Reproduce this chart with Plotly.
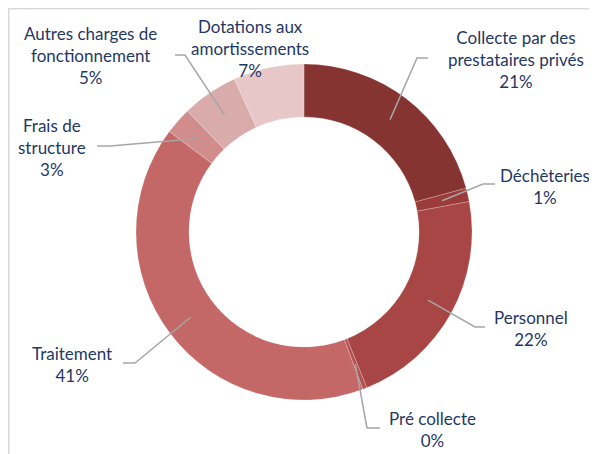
import math
import plotly.graph_objects as go

labels = ["Collecte par des<br>prestataires privés", "Déchèteries", "Personnel", "Pré collecte",
          "Traitement", "Frais de<br>structure", "Autres charges de<br>fonctionnement",
          "Dotations aux<br>amortissements"]
values = [20.8, 1.3, 21.8, 0.4, 40.9, 2.6, 5.4, 6.8]
colors = ["#853432", "#9B3C3B", "#A84645", "#B65050", "#C46867", "#D18D8C", "#D9ABAB", "#E7C7C7"]

# label layout (screen-pixel positions of label centres, leader elbow and end)
label_pos = [(516, 59), (545, 186), (531, 328), (432, 429), (72, 364), (52, 147), (90, 56), (250, 48)]
elbows = [(417, 58), (483, 184), (475, 327), (367, 428), (135, 363), (110, 146), (185, 55), None]
ends = [(428, 58), (495, 184), (485, 327), (380, 428), (123, 363), (97, 146), (175, 55), None]

OFF = 8  # page body margin
W, H = 597 - OFF, 454 - OFF
CX, CY, R = 304, 232, 168
HOLE = 0.685


def px(x):
    return (x - OFF) / W


def py(y):
    return 1 - (y - OFF) / H


fig = go.Figure()
fig.add_trace(go.Pie(
    labels=labels, values=values, sort=False, direction="clockwise", rotation=0,
    hole=HOLE, textinfo="none", hoverinfo="label+percent",
    marker=dict(colors=colors, line=dict(color="rgba(255,255,255,0.35)", width=0.6)),
    domain=dict(x=[px(CX - R), px(CX + R)], y=[py(CY + R), py(CY - R)]),
    showlegend=False,
))

total = sum(values)
shapes = []
annotations = []
cum = 0.0
rmid = R * (1 + HOLE) / 2
for lab, v, pos, el, en in zip(labels, values, label_pos, elbows, ends):
    mid = (cum + v / 2) / total
    cum += v
    ang = 2 * math.pi * mid
    sx = CX + rmid * math.sin(ang)
    sy = CY - rmid * math.cos(ang)
    pct = f"{round(v / total * 100)}%"
    annotations.append(dict(
        x=px(pos[0]), y=py(pos[1]), xref="paper", yref="paper", text=f"{lab}<br>{pct}",
        showarrow=False, xanchor="center", yanchor="middle", align="center",
        font=dict(family="Lato", size=17, color="#1F3864"),
    ))
    if el is not None:
        shapes.append(dict(
            type="path", xref="paper", yref="paper",
            path=f"M {px(sx)} {py(sy)} L {px(el[0])} {py(el[1])} L {px(en[0])} {py(en[1])}",
            line=dict(color="#A6A6A6", width=1.5),
        ))

# chart frame (top and left edges)
shapes.append(dict(type="line", xref="paper", yref="paper", x0=0, x1=1, y0=1, y1=1,
                   line=dict(color="#D9D9D9", width=3)))
shapes.append(dict(type="line", xref="paper", yref="paper", x0=0, x1=0, y0=1, y1=0,
                   line=dict(color="#D9D9D9", width=3)))

fig.update_layout(
    width=W, height=H, margin=dict(l=0, r=0, t=0, b=0),
    paper_bgcolor="white", plot_bgcolor="white",
    shapes=shapes, annotations=annotations,
)
fig.write_html("out.html")
